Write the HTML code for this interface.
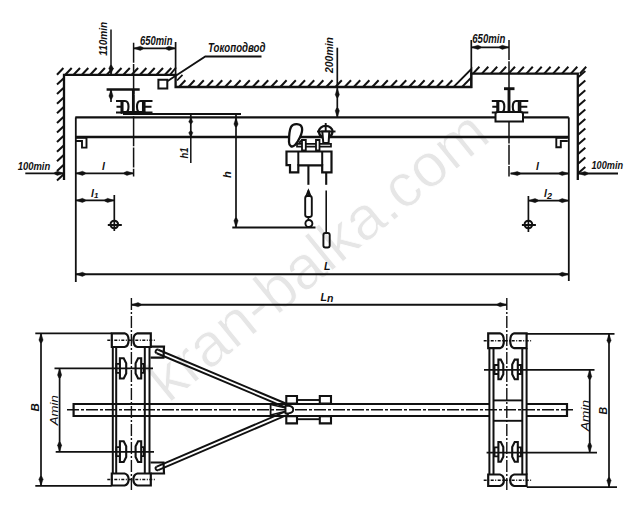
<!DOCTYPE html>
<html><head><meta charset="utf-8"><style>
html,body{margin:0;padding:0;background:#fff;}
svg{display:block;font-family:"Liberation Sans",sans-serif;}
</style></head><body>
<svg width="627" height="516" viewBox="0 0 627 516">
<rect width="627" height="516" fill="#fff"/>
<text x="0" y="0" font-size="61.2" fill="#e6e6e6" stroke="#fff" stroke-width="0.8" transform="translate(168.5,404) rotate(-39.2)" font-family="Liberation Sans, sans-serif">kran-balka.com</text>
<path d="M64.00,180.00 L64.00,74.80 L175.60,74.80 L175.60,87.00 L471.30,87.00 L471.30,73.60 L577.80,73.60 L577.80,180.00" stroke="#111" stroke-width="2.3" fill="none" />
<path d="M57.00,74.80 L63.40,68.00" stroke="#111" stroke-width="2.0" fill="none" />
<path d="M65.30,74.80 L71.70,68.00" stroke="#111" stroke-width="2.0" fill="none" />
<path d="M73.60,74.80 L80.00,68.00" stroke="#111" stroke-width="2.0" fill="none" />
<path d="M81.90,74.80 L88.30,68.00" stroke="#111" stroke-width="2.0" fill="none" />
<path d="M90.20,74.80 L96.60,68.00" stroke="#111" stroke-width="2.0" fill="none" />
<path d="M98.50,74.80 L104.90,68.00" stroke="#111" stroke-width="2.0" fill="none" />
<path d="M106.80,74.80 L113.20,68.00" stroke="#111" stroke-width="2.0" fill="none" />
<path d="M115.10,74.80 L121.50,68.00" stroke="#111" stroke-width="2.0" fill="none" />
<path d="M123.40,74.80 L129.80,68.00" stroke="#111" stroke-width="2.0" fill="none" />
<path d="M131.70,74.80 L138.10,68.00" stroke="#111" stroke-width="2.0" fill="none" />
<path d="M140.00,74.80 L146.40,68.00" stroke="#111" stroke-width="2.0" fill="none" />
<path d="M148.30,74.80 L154.70,68.00" stroke="#111" stroke-width="2.0" fill="none" />
<path d="M156.60,74.80 L163.00,68.00" stroke="#111" stroke-width="2.0" fill="none" />
<path d="M164.90,74.80 L171.30,68.00" stroke="#111" stroke-width="2.0" fill="none" />
<path d="M179.00,87.00 L185.40,80.20" stroke="#111" stroke-width="2.0" fill="none" />
<path d="M188.20,87.00 L194.60,80.20" stroke="#111" stroke-width="2.0" fill="none" />
<path d="M197.40,87.00 L203.80,80.20" stroke="#111" stroke-width="2.0" fill="none" />
<path d="M206.60,87.00 L213.00,80.20" stroke="#111" stroke-width="2.0" fill="none" />
<path d="M215.80,87.00 L222.20,80.20" stroke="#111" stroke-width="2.0" fill="none" />
<path d="M225.00,87.00 L231.40,80.20" stroke="#111" stroke-width="2.0" fill="none" />
<path d="M234.20,87.00 L240.60,80.20" stroke="#111" stroke-width="2.0" fill="none" />
<path d="M243.40,87.00 L249.80,80.20" stroke="#111" stroke-width="2.0" fill="none" />
<path d="M252.60,87.00 L259.00,80.20" stroke="#111" stroke-width="2.0" fill="none" />
<path d="M261.80,87.00 L268.20,80.20" stroke="#111" stroke-width="2.0" fill="none" />
<path d="M271.00,87.00 L277.40,80.20" stroke="#111" stroke-width="2.0" fill="none" />
<path d="M280.20,87.00 L286.60,80.20" stroke="#111" stroke-width="2.0" fill="none" />
<path d="M289.40,87.00 L295.80,80.20" stroke="#111" stroke-width="2.0" fill="none" />
<path d="M298.60,87.00 L305.00,80.20" stroke="#111" stroke-width="2.0" fill="none" />
<path d="M307.80,87.00 L314.20,80.20" stroke="#111" stroke-width="2.0" fill="none" />
<path d="M317.00,87.00 L323.40,80.20" stroke="#111" stroke-width="2.0" fill="none" />
<path d="M326.20,87.00 L332.60,80.20" stroke="#111" stroke-width="2.0" fill="none" />
<path d="M335.40,87.00 L341.80,80.20" stroke="#111" stroke-width="2.0" fill="none" />
<path d="M344.60,87.00 L351.00,80.20" stroke="#111" stroke-width="2.0" fill="none" />
<path d="M353.80,87.00 L360.20,80.20" stroke="#111" stroke-width="2.0" fill="none" />
<path d="M363.00,87.00 L369.40,80.20" stroke="#111" stroke-width="2.0" fill="none" />
<path d="M372.20,87.00 L378.60,80.20" stroke="#111" stroke-width="2.0" fill="none" />
<path d="M381.40,87.00 L387.80,80.20" stroke="#111" stroke-width="2.0" fill="none" />
<path d="M390.60,87.00 L397.00,80.20" stroke="#111" stroke-width="2.0" fill="none" />
<path d="M399.80,87.00 L406.20,80.20" stroke="#111" stroke-width="2.0" fill="none" />
<path d="M409.00,87.00 L415.40,80.20" stroke="#111" stroke-width="2.0" fill="none" />
<path d="M418.20,87.00 L424.60,80.20" stroke="#111" stroke-width="2.0" fill="none" />
<path d="M427.40,87.00 L433.80,80.20" stroke="#111" stroke-width="2.0" fill="none" />
<path d="M436.60,87.00 L443.00,80.20" stroke="#111" stroke-width="2.0" fill="none" />
<path d="M445.80,87.00 L452.20,80.20" stroke="#111" stroke-width="2.0" fill="none" />
<path d="M473.00,73.60 L479.40,66.80" stroke="#111" stroke-width="2.0" fill="none" />
<path d="M481.90,73.60 L488.30,66.80" stroke="#111" stroke-width="2.0" fill="none" />
<path d="M490.80,73.60 L497.20,66.80" stroke="#111" stroke-width="2.0" fill="none" />
<path d="M499.70,73.60 L506.10,66.80" stroke="#111" stroke-width="2.0" fill="none" />
<path d="M508.60,73.60 L515.00,66.80" stroke="#111" stroke-width="2.0" fill="none" />
<path d="M517.50,73.60 L523.90,66.80" stroke="#111" stroke-width="2.0" fill="none" />
<path d="M526.40,73.60 L532.80,66.80" stroke="#111" stroke-width="2.0" fill="none" />
<path d="M535.30,73.60 L541.70,66.80" stroke="#111" stroke-width="2.0" fill="none" />
<path d="M544.20,73.60 L550.60,66.80" stroke="#111" stroke-width="2.0" fill="none" />
<path d="M553.10,73.60 L559.50,66.80" stroke="#111" stroke-width="2.0" fill="none" />
<path d="M562.00,73.60 L568.40,66.80" stroke="#111" stroke-width="2.0" fill="none" />
<path d="M570.90,73.60 L577.30,66.80" stroke="#111" stroke-width="2.0" fill="none" />
<path d="M579.80,73.60 L586.20,66.80" stroke="#111" stroke-width="2.0" fill="none" />
<path d="M57.00,84.50 L64.00,78.00" stroke="#111" stroke-width="2.0" fill="none" />
<path d="M57.00,94.10 L64.00,87.60" stroke="#111" stroke-width="2.0" fill="none" />
<path d="M57.00,103.70 L64.00,97.20" stroke="#111" stroke-width="2.0" fill="none" />
<path d="M57.00,113.30 L64.00,106.80" stroke="#111" stroke-width="2.0" fill="none" />
<path d="M57.00,122.90 L64.00,116.40" stroke="#111" stroke-width="2.0" fill="none" />
<path d="M57.00,132.50 L64.00,126.00" stroke="#111" stroke-width="2.0" fill="none" />
<path d="M57.00,142.10 L64.00,135.60" stroke="#111" stroke-width="2.0" fill="none" />
<path d="M57.00,151.70 L64.00,145.20" stroke="#111" stroke-width="2.0" fill="none" />
<path d="M57.00,161.30 L64.00,154.80" stroke="#111" stroke-width="2.0" fill="none" />
<path d="M57.00,170.90 L64.00,164.40" stroke="#111" stroke-width="2.0" fill="none" />
<path d="M57.00,180.50 L64.00,174.00" stroke="#111" stroke-width="2.0" fill="none" />
<path d="M577.80,77.50 L585.30,71.00" stroke="#111" stroke-width="2.0" fill="none" />
<path d="M577.80,87.10 L585.30,80.60" stroke="#111" stroke-width="2.0" fill="none" />
<path d="M577.80,96.70 L585.30,90.20" stroke="#111" stroke-width="2.0" fill="none" />
<path d="M577.80,106.30 L585.30,99.80" stroke="#111" stroke-width="2.0" fill="none" />
<path d="M577.80,115.90 L585.30,109.40" stroke="#111" stroke-width="2.0" fill="none" />
<path d="M577.80,125.50 L585.30,119.00" stroke="#111" stroke-width="2.0" fill="none" />
<path d="M577.80,135.10 L585.30,128.60" stroke="#111" stroke-width="2.0" fill="none" />
<path d="M577.80,144.70 L585.30,138.20" stroke="#111" stroke-width="2.0" fill="none" />
<path d="M577.80,154.30 L585.30,147.80" stroke="#111" stroke-width="2.0" fill="none" />
<path d="M577.80,163.90 L585.30,157.40" stroke="#111" stroke-width="2.0" fill="none" />
<path d="M577.80,173.50 L585.30,167.00" stroke="#111" stroke-width="2.0" fill="none" />
<path d="M453.5,87 L471.3,87 L471.3,69 Z" stroke="#111" stroke-width="1.9000000000000001" fill="none" />
<path d="M462.00,87.00 L471.30,77.50" stroke="#111" stroke-width="1.8" fill="none" />
<path d="M177.00,80.50 L182.50,74.80" stroke="#111" stroke-width="1.8" fill="none" />
<path d="M170.00,74.80 L176.00,67.50" stroke="#111" stroke-width="1.9000000000000001" fill="none" />
<path d="M111.00,29.50 L111.00,74.80" stroke="#111" stroke-width="1.5" fill="none" />
<path d="M111.00,74.80 L108.90,68.15 L110.27,65.30 L111.73,65.30 L113.10,68.15 Z" fill="#111" stroke="#111" stroke-width="0.4"/>
<path d="M111.00,102.00 L111.00,89.40" stroke="#111" stroke-width="1.7" fill="none" />
<path d="M111.00,89.40 L113.10,96.05 L111.73,98.90 L110.27,98.90 L108.90,96.05 Z" fill="#111" stroke="#111" stroke-width="0.4"/>
<path d="M106.60,89.40 L139.70,89.40" stroke="#111" stroke-width="2.5" fill="none" />
<path d="M133.30,89.40 L133.30,112.00" stroke="#111" stroke-width="2.6999999999999997" fill="none" />
<text x="107.4" y="55.7" font-size="10.5" font-style="italic" font-weight="bold" text-anchor="start" fill="#111" textLength="34" lengthAdjust="spacingAndGlyphs" transform="rotate(-90 107.4 55.7)" >110min</text>
<path d="M133.60,42.70 L133.60,176.50" stroke="#111" stroke-width="1.5" fill="none" stroke-dasharray="20,1.2,30,1.2" />
<path d="M133.60,48.30 L175.60,48.30" stroke="#111" stroke-width="1.7" fill="none" />
<path d="M133.60,48.30 L140.25,46.20 L143.10,47.56 L143.10,49.03 L140.25,50.40 Z" fill="#111" stroke="#111" stroke-width="0.4"/>
<path d="M175.60,48.30 L168.95,50.40 L166.10,49.03 L166.10,47.56 L168.95,46.20 Z" fill="#111" stroke="#111" stroke-width="0.4"/>
<path d="M175.60,42.00 L175.60,74.80" stroke="#111" stroke-width="1.7" fill="none" />
<text x="140" y="44.5" font-size="12" font-style="italic" font-weight="bold" text-anchor="start" fill="#111" textLength="32.4" lengthAdjust="spacingAndGlyphs" >650min</text>
<path d="M471.30,40.00 L471.30,73.60" stroke="#111" stroke-width="1.7" fill="none" />
<path d="M509.00,40.00 L509.00,176.50" stroke="#111" stroke-width="1.5" fill="none" stroke-dasharray="20,1.2,30,1.2" />
<path d="M471.30,47.30 L509.00,47.30" stroke="#111" stroke-width="1.7" fill="none" />
<path d="M471.30,47.30 L477.95,45.20 L480.80,46.56 L480.80,48.03 L477.95,49.40 Z" fill="#111" stroke="#111" stroke-width="0.4"/>
<path d="M509.00,47.30 L502.35,49.40 L499.50,48.03 L499.50,46.56 L502.35,45.20 Z" fill="#111" stroke="#111" stroke-width="0.4"/>
<text x="472.3" y="43" font-size="12.5" font-style="italic" font-weight="bold" text-anchor="start" fill="#111" textLength="33" lengthAdjust="spacingAndGlyphs" >650min</text>
<path d="M158.4,79.8 h8.9 v8.7 h-8.9 Z" stroke="#111" stroke-width="2.0" fill="none" />
<path d="M167.30,81.30 L205.30,56.50 L261.50,56.50" stroke="#111" stroke-width="1.8" fill="none" />
<text x="208" y="52.3" font-size="12.5" font-style="italic" font-weight="bold" text-anchor="start" fill="#111" textLength="57.5" lengthAdjust="spacingAndGlyphs" >Токоподвод</text>
<path d="M337.30,47.70 L337.30,118.00" stroke="#111" stroke-width="1.7" fill="none" />
<path d="M337.30,88.00 L339.40,94.65 L338.04,97.50 L336.56,97.50 L335.20,94.65 Z" fill="#111" stroke="#111" stroke-width="0.4"/>
<path d="M337.30,117.50 L335.20,110.85 L336.56,108.00 L338.04,108.00 L339.40,110.85 Z" fill="#111" stroke="#111" stroke-width="0.4"/>
<text x="333" y="73" font-size="10" font-style="italic" font-weight="bold" text-anchor="start" fill="#111" textLength="36" lengthAdjust="spacingAndGlyphs" transform="rotate(-90 333 73)" >200min</text>
<path d="M75.30,117.40 L568.80,117.40" stroke="#111" stroke-width="2.4" fill="none" />
<path d="M75.30,137.00 L568.80,137.00" stroke="#111" stroke-width="2.4" fill="none" />
<path d="M75.80,117.40 L75.80,282.00" stroke="#111" stroke-width="1.8" fill="none" />
<path d="M568.80,117.40 L568.80,281.00" stroke="#111" stroke-width="1.8" fill="none" />
<path d="M123.00,114.00 L241.00,114.00" stroke="#111" stroke-width="1.9000000000000001" fill="none" />
<path d="M76,137.8 h10.5 v9.8 h-4.5 v-6.6 h-6" stroke="#111" stroke-width="1.9000000000000001" fill="none" />
<path d="M567.8,137.8 h-11.5 v9.5 h4.5 v-6.3 h7" stroke="#111" stroke-width="1.9000000000000001" fill="none" />
<g stroke="#111" stroke-width="2.1" fill="none"><path d="M116,101 h5.5 v11.5 h-5.5 M116.5,106.75 h5"/><path d="M122.5,101 h2.5 q3.5,0 3.5,5.75 q0,5.75 -3.5,5.75 h-2.5 Z"/><path d="M143,101 h-2.5 q-3.5,0 -3.5,5.75 q0,5.75 3.5,5.75 h2.5 Z"/><path d="M152.5,101 h-8 v11.5 h8 M144.5,106.75 h7"/></g>
<g stroke="#111" stroke-width="2.1" fill="none"><path d="M491.8,101 h5.5 v11.5 h-5.5 M492.3,106.75 h5"/><path d="M498.3,101 h2.5 q3.5,0 3.5,5.75 q0,5.75 -3.5,5.75 h-2.5 Z"/><path d="M518.8,101 h-2.5 q-3.5,0 -3.5,5.75 q0,5.75 3.5,5.75 h2.5 Z"/><path d="M528.3,101 h-8 v11.5 h8 M520.3,106.75 h7"/></g>
<path d="M504.00,88.70 L514.50,88.70" stroke="#111" stroke-width="2.9" fill="none" />
<path d="M509.00,88.70 L509.00,113.00" stroke="#111" stroke-width="2.9" fill="none" />
<path d="M495.5,114 q0,-2 2.5,-2 h22.5 q2.5,0 2.5,2 v7.5 h-27.5 Z" stroke="#111" stroke-width="2.0" fill="#fff" />
<path d="M120.8,113.5 q1,-1.5 3,-1.5 h19 q2,0 3,1.5" stroke="#111" stroke-width="1.9000000000000001" fill="none" />
<path d="M190.80,114.00 L190.80,137.00" stroke="#111" stroke-width="1.7" fill="none" />
<path d="M190.80,117.60 L192.90,121.80 L191.54,123.60 L190.06,123.60 L188.70,121.80 Z" fill="#111" stroke="#111" stroke-width="0.4"/>
<path d="M190.80,137.00 L188.70,132.80 L190.06,131.00 L191.54,131.00 L192.90,132.80 Z" fill="#111" stroke="#111" stroke-width="0.4"/>
<path d="M190.80,137.00 L190.80,163.00" stroke="#111" stroke-width="1.5" fill="none" />
<text x="188.3" y="158.5" font-size="10" font-style="italic" font-weight="bold" text-anchor="start" fill="#111" textLength="11" lengthAdjust="spacingAndGlyphs" transform="rotate(-90 188.3 158.5)" >h1</text>
<path d="M236.00,114.00 L236.00,227.50" stroke="#111" stroke-width="1.7" fill="none" />
<path d="M236.00,117.40 L238.10,124.05 L236.74,126.90 L235.26,126.90 L233.90,124.05 Z" fill="#111" stroke="#111" stroke-width="0.4"/>
<path d="M236.00,227.50 L233.90,220.85 L235.26,218.00 L236.74,218.00 L238.10,220.85 Z" fill="#111" stroke="#111" stroke-width="0.4"/>
<text x="230.5" y="178" font-size="11" font-style="italic" font-weight="bold" text-anchor="start" fill="#111" transform="rotate(-90 230.5 178)" >h</text>
<path d="M232.30,227.50 L315.50,227.50" stroke="#111" stroke-width="1.9000000000000001" fill="none" />
<path d="M25.30,173.30 L64.00,173.30" stroke="#111" stroke-width="1.8" fill="none" />
<path d="M64.00,173.30 L57.35,175.40 L54.50,174.04 L54.50,172.56 L57.35,171.20 Z" fill="#111" stroke="#111" stroke-width="0.4"/>
<path d="M75.80,173.30 L133.60,173.30" stroke="#111" stroke-width="1.8" fill="none" />
<path d="M75.80,173.30 L82.45,171.20 L85.30,172.56 L85.30,174.04 L82.45,175.40 Z" fill="#111" stroke="#111" stroke-width="0.4"/>
<path d="M133.60,173.30 L126.95,175.40 L124.10,174.04 L124.10,172.56 L126.95,171.20 Z" fill="#111" stroke="#111" stroke-width="0.4"/>
<text x="17.7" y="170" font-size="10" font-style="italic" font-weight="bold" text-anchor="start" fill="#111" textLength="32.5" lengthAdjust="spacingAndGlyphs" >100min</text>
<text x="102" y="169.5" font-size="10.5" font-style="italic" font-weight="bold" text-anchor="start" fill="#111" >l</text>
<path d="M578.20,173.50 L618.00,173.50" stroke="#111" stroke-width="1.8" fill="none" />
<path d="M578.20,173.50 L584.85,171.40 L587.70,172.76 L587.70,174.24 L584.85,175.60 Z" fill="#111" stroke="#111" stroke-width="0.4"/>
<path d="M510.60,173.50 L568.80,173.50" stroke="#111" stroke-width="1.8" fill="none" />
<path d="M510.60,173.50 L517.25,171.40 L520.10,172.76 L520.10,174.24 L517.25,175.60 Z" fill="#111" stroke="#111" stroke-width="0.4"/>
<path d="M568.80,173.50 L562.15,175.60 L559.30,174.24 L559.30,172.76 L562.15,171.40 Z" fill="#111" stroke="#111" stroke-width="0.4"/>
<text x="591.5" y="168.6" font-size="10.5" font-style="italic" font-weight="bold" text-anchor="start" fill="#111" textLength="31.5" lengthAdjust="spacingAndGlyphs" >100min</text>
<text x="536" y="170" font-size="10.5" font-style="italic" font-weight="bold" text-anchor="start" fill="#111" >l</text>
<path d="M75.80,200.40 L114.30,200.40" stroke="#111" stroke-width="1.8" fill="none" />
<path d="M75.80,200.40 L82.45,198.30 L85.30,199.66 L85.30,201.14 L82.45,202.50 Z" fill="#111" stroke="#111" stroke-width="0.4"/>
<path d="M114.30,200.40 L107.65,202.50 L104.80,201.14 L104.80,199.66 L107.65,198.30 Z" fill="#111" stroke="#111" stroke-width="0.4"/>
<path d="M114.30,195.00 L114.30,231.00" stroke="#111" stroke-width="1.7" fill="none" />
<text x="91" y="196.5" font-size="10.5" font-style="italic" font-weight="bold" text-anchor="start" fill="#111" >l<tspan dy="1" font-size="8">1</tspan></text>
<path d="M528.40,200.60 L568.80,200.60" stroke="#111" stroke-width="1.8" fill="none" />
<path d="M528.40,200.60 L535.05,198.50 L537.90,199.86 L537.90,201.34 L535.05,202.70 Z" fill="#111" stroke="#111" stroke-width="0.4"/>
<path d="M568.80,200.60 L562.15,202.70 L559.30,201.34 L559.30,199.86 L562.15,198.50 Z" fill="#111" stroke="#111" stroke-width="0.4"/>
<path d="M528.40,196.00 L528.40,232.00" stroke="#111" stroke-width="1.7" fill="none" />
<text x="544" y="197" font-size="10.5" font-style="italic" font-weight="bold" text-anchor="start" fill="#111" >l<tspan dy="1.5" font-size="9">2</tspan></text>
<path d="M110.5,224.5 a3.8,3.8 0 0 1 7.6,0 a3.8,3.8 0 0 1 -7.6,0" stroke="#111" stroke-width="2.0" fill="none" />
<path d="M107.80,225.00 L121.80,225.00" stroke="#111" stroke-width="2.0" fill="none" />
<path d="M524.6,224.5 a3.8,3.8 0 0 1 7.6,0 a3.8,3.8 0 0 1 -7.6,0" stroke="#111" stroke-width="2.0" fill="none" />
<path d="M521.90,225.00 L535.90,225.00" stroke="#111" stroke-width="2.0" fill="none" />
<path d="M75.80,274.30 L568.80,274.30" stroke="#111" stroke-width="1.9000000000000001" fill="none" />
<path d="M75.80,274.30 L82.45,272.20 L85.30,273.56 L85.30,275.04 L82.45,276.40 Z" fill="#111" stroke="#111" stroke-width="0.4"/>
<path d="M568.80,274.30 L562.15,276.40 L559.30,275.04 L559.30,273.56 L562.15,272.20 Z" fill="#111" stroke="#111" stroke-width="0.4"/>
<text x="324" y="270" font-size="10.5" font-style="italic" font-weight="bold" text-anchor="start" fill="#111" >L</text>
<path d="M291,127 C293,123 301,123 302,128 C303,133 298,142 295,145 C292,148 289,146 289,142 C289,137 289,131 291,127 Z" stroke="#111" stroke-width="2.3" fill="#fff" />
<path d="M299,143 q2,-3 6,-3" stroke="#111" stroke-width="1.8" fill="none" />
<path d="M318.8,131.5 a6.9,5.6 0 0 1 13.8,0 M318.8,131.5 q0.5,4 3.5,6 M332.6,131.5 q-0.5,4 -3.5,6" stroke="#111" stroke-width="2.1999999999999997" fill="none" />
<path d="M317.00,131.50 L335.50,131.50" stroke="#111" stroke-width="1.9000000000000001" fill="none" />
<path d="M325.70,123.00 L325.70,131.00" stroke="#111" stroke-width="1.9000000000000001" fill="none" />
<path d="M322.3,131.5 L329.3,131.5 L328.6,143 L323.3,143 Z" stroke="#111" stroke-width="2.0" fill="#fff" />
<path d="M297,143.8 h34 v2.8 h-34 Z" stroke="#111" stroke-width="1.7" fill="none" />
<path d="M302,140 h3.8 v10.5 h-3.8 Z" stroke="#111" stroke-width="1.8" fill="#fff" />
<path d="M316,140 h3.5 v10.5 h-3.5 Z" stroke="#111" stroke-width="1.8" fill="#fff" />
<path d="M286.5,151.5 L331.5,151.5 L331.5,172.4 L322.2,172.4 L322.2,165.4 L298.3,165.4 L298.3,172.4 L290,172.4 L290,165.2 L286.5,165.2 Z" stroke="#111" stroke-width="2.1999999999999997" fill="none" />
<path d="M298.30,151.50 L298.30,165.40" stroke="#111" stroke-width="2.0" fill="none" />
<path d="M322.20,151.50 L322.20,165.40" stroke="#111" stroke-width="2.0" fill="none" />
<path d="M308.40,165.40 L308.40,184.80" stroke="#111" stroke-width="2.1" fill="none" />
<rect x="305.2" y="196" width="6.6" height="21" rx="2.2" stroke="#111" stroke-width="1.9" fill="none"/>
<path d="M306,196.5 L308.4,190.6 L310.8,196.5" stroke="#111" stroke-width="1.8" fill="none" />
<path d="M308.40,190.60 L308.40,196.00" stroke="#111" stroke-width="1.9000000000000001" fill="none" />
<path d="M308.40,217.00 L308.40,220.00" stroke="#111" stroke-width="1.7" fill="none" />
<path d="M305.4,223.5 a3.5,3.5 0 1 0 7,0 a3.5,3.5 0 1 0 -7,0" stroke="#111" stroke-width="1.9000000000000001" fill="none" />
<path d="M326.20,172.40 L326.20,184.80" stroke="#111" stroke-width="2.1" fill="none" />
<path d="M326.20,190.60 L326.20,233.00" stroke="#111" stroke-width="1.6" fill="none" />
<rect x="323.4" y="233" width="6.3" height="14.5" rx="2" stroke="#111" stroke-width="1.9" fill="none"/>
<path d="M131.40,298.00 L131.40,492.00" stroke="#111" stroke-width="1.4000000000000001" fill="none" stroke-dasharray="12,2,2,2" />
<path d="M506.80,298.00 L506.80,492.00" stroke="#111" stroke-width="1.4000000000000001" fill="none" stroke-dasharray="12,2,2,2" />
<path d="M131.40,304.70 L506.80,304.70" stroke="#111" stroke-width="1.9000000000000001" fill="none" />
<path d="M131.40,304.70 L138.05,302.60 L140.90,303.96 L140.90,305.44 L138.05,306.80 Z" fill="#111" stroke="#111" stroke-width="0.4"/>
<path d="M506.80,304.70 L500.15,306.80 L497.30,305.44 L497.30,303.96 L500.15,302.60 Z" fill="#111" stroke="#111" stroke-width="0.4"/>
<text x="320.5" y="300.5" font-size="10.5" font-style="italic" font-weight="bold" text-anchor="start" fill="#111" >L<tspan dy="1.5" font-size="10.5">n</tspan></text>
<path d="M489.4,404 L73.6,404 L73.6,416 L489.4,416 M526.6,404 L567,404 L567,416 L526.6,416" stroke="#111" stroke-width="2.1999999999999997" fill="none" />
<path d="M67.00,409.80 L575.00,409.80" stroke="#111" stroke-width="1.4000000000000001" fill="none" stroke-dasharray="12,2,3,2" />
<path d="M112.80,347.00 L112.80,473.50" stroke="#111" stroke-width="2.0" fill="none" />
<path d="M116.20,347.00 L116.20,473.50" stroke="#111" stroke-width="2.0" fill="none" />
<path d="M144.80,347.00 L144.80,473.50" stroke="#111" stroke-width="2.0" fill="none" />
<path d="M149.50,347.00 L149.50,473.50" stroke="#111" stroke-width="2.0" fill="none" />
<path d="M111.8,333.3 L124.6,333.3 Q128.6,334.3 128.6,340.15 Q128.6,346 124.6,347 L111.8,347 Z" stroke="#111" stroke-width="2.1999999999999997" fill="none" />
<path d="M150.8,333.3 L137.4,333.3 Q133.4,334.3 133.4,340.15 Q133.4,346 137.4,347 L150.8,347 Z" stroke="#111" stroke-width="2.1999999999999997" fill="none" />
<path d="M107.30,340.15 L155.30,340.15" stroke="#111" stroke-width="1.5" fill="none" stroke-dasharray="3,1.5,1,1.5" />
<path d="M111.8,473.5 L124.6,473.5 Q128.6,474.5 128.6,479.5 Q128.6,484.5 124.6,485.5 L111.8,485.5 Z" stroke="#111" stroke-width="2.1999999999999997" fill="none" />
<path d="M150.8,473.5 L137.4,473.5 Q133.4,474.5 133.4,479.5 Q133.4,484.5 137.4,485.5 L150.8,485.5 Z" stroke="#111" stroke-width="2.1999999999999997" fill="none" />
<path d="M107.30,479.50 L155.30,479.50" stroke="#111" stroke-width="1.5" fill="none" stroke-dasharray="3,1.5,1,1.5" />
<path d="M119.9,358.3 L123.7,358.3 L126.2,363.3 L126.2,373.5 L123.7,378.5 L119.9,378.5 Z" stroke="#111" stroke-width="2.1" fill="none" />
<path d="M119.9,363.9 L116.4,363.9 L116.4,372.9 L119.9,372.9" stroke="#111" stroke-width="1.9000000000000001" fill="none" />
<path d="M141.2,358.3 L138.1,358.3 L135.6,363.3 L135.6,373.5 L138.1,378.5 L141.2,378.5 Z" stroke="#111" stroke-width="2.1" fill="none" />
<path d="M141.2,363.9 L143.8,363.9 L143.8,372.9 L141.2,372.9" stroke="#111" stroke-width="1.9000000000000001" fill="none" />
<path d="M119.9,441.3 L123.7,441.3 L126.2,446.3 L126.2,457 L123.7,462 L119.9,462 Z" stroke="#111" stroke-width="2.1" fill="none" />
<path d="M119.9,447.15 L116.4,447.15 L116.4,456.15 L119.9,456.15" stroke="#111" stroke-width="1.9000000000000001" fill="none" />
<path d="M141.2,441.3 L138.1,441.3 L135.6,446.3 L135.6,457 L138.1,462 L141.2,462 Z" stroke="#111" stroke-width="2.1" fill="none" />
<path d="M141.2,447.15 L143.8,447.15 L143.8,456.15 L141.2,456.15" stroke="#111" stroke-width="1.9000000000000001" fill="none" />
<path d="M489.40,348.20 L489.40,474.50" stroke="#111" stroke-width="2.0" fill="none" />
<path d="M493.50,348.20 L493.50,474.50" stroke="#111" stroke-width="2.0" fill="none" />
<path d="M522.30,348.20 L522.30,474.50" stroke="#111" stroke-width="2.0" fill="none" />
<path d="M526.60,348.20 L526.60,474.50" stroke="#111" stroke-width="2.0" fill="none" />
<path d="M488.2,333.3 L499.9,333.3 Q503.9,334.3 503.9,340.75 Q503.9,347.2 499.9,348.2 L488.2,348.2 Z" stroke="#111" stroke-width="2.1999999999999997" fill="none" />
<path d="M526.6,333.3 L514.2,333.3 Q510.2,334.3 510.2,340.75 Q510.2,347.2 514.2,348.2 L526.6,348.2 Z" stroke="#111" stroke-width="2.1999999999999997" fill="none" />
<path d="M483.70,340.75 L531.10,340.75" stroke="#111" stroke-width="1.5" fill="none" stroke-dasharray="3,1.5,1,1.5" />
<path d="M488.2,474.5 L499.9,474.5 Q503.9,475.5 503.9,480.25 Q503.9,485 499.9,486 L488.2,486 Z" stroke="#111" stroke-width="2.1999999999999997" fill="none" />
<path d="M526.6,474.5 L514.2,474.5 Q510.2,475.5 510.2,480.25 Q510.2,485 514.2,486 L526.6,486 Z" stroke="#111" stroke-width="2.1999999999999997" fill="none" />
<path d="M483.70,480.25 L531.10,480.25" stroke="#111" stroke-width="1.5" fill="none" stroke-dasharray="3,1.5,1,1.5" />
<path d="M498.4,359.6 L500.8,359.6 L503.3,364.6 L503.3,374.3 L500.8,379.3 L498.4,379.3 Z" stroke="#111" stroke-width="2.1" fill="none" />
<path d="M498.4,364.95000000000005 L494.5,364.95000000000005 L494.5,373.95000000000005 L498.4,373.95000000000005" stroke="#111" stroke-width="1.9000000000000001" fill="none" />
<path d="M517.8,359.6 L514.7,359.6 L512.2,364.6 L512.2,374.3 L514.7,379.3 L517.8,379.3 Z" stroke="#111" stroke-width="2.1" fill="none" />
<path d="M517.8,364.95000000000005 L521,364.95000000000005 L521,373.95000000000005 L517.8,373.95000000000005" stroke="#111" stroke-width="1.9000000000000001" fill="none" />
<path d="M498.4,442 L500.8,442 L503.3,447 L503.3,456.8 L500.8,461.8 L498.4,461.8 Z" stroke="#111" stroke-width="2.1" fill="none" />
<path d="M498.4,447.4 L494.5,447.4 L494.5,456.4 L498.4,456.4" stroke="#111" stroke-width="1.9000000000000001" fill="none" />
<path d="M517.8,442 L514.7,442 L512.2,447 L512.2,456.8 L514.7,461.8 L517.8,461.8 Z" stroke="#111" stroke-width="2.1" fill="none" />
<path d="M517.8,447.4 L521,447.4 L521,456.4 L517.8,456.4" stroke="#111" stroke-width="1.9000000000000001" fill="none" />
<path d="M493.50,400.40 L522.30,400.40" stroke="#111" stroke-width="1.9000000000000001" fill="none" />
<path d="M493.50,420.80 L522.30,420.80" stroke="#111" stroke-width="1.9000000000000001" fill="none" />
<path d="M35.30,333.30 L111.50,333.30" stroke="#111" stroke-width="1.8" fill="none" />
<path d="M35.30,485.80 L111.50,485.80" stroke="#111" stroke-width="1.8" fill="none" />
<path d="M41.00,333.30 L41.00,485.80" stroke="#111" stroke-width="1.7" fill="none" />
<path d="M41.00,333.30 L43.10,339.95 L41.73,342.80 L40.27,342.80 L38.90,339.95 Z" fill="#111" stroke="#111" stroke-width="0.4"/>
<path d="M41.00,485.80 L38.90,479.15 L40.27,476.30 L41.73,476.30 L43.10,479.15 Z" fill="#111" stroke="#111" stroke-width="0.4"/>
<text x="38.8" y="411.5" font-size="11.5" font-style="italic" font-weight="bold" text-anchor="start" fill="#111" transform="rotate(-90 38.8 411.5)" >B</text>
<path d="M54.50,368.40 L153.00,368.40" stroke="#111" stroke-width="1.8" fill="none" />
<path d="M55.70,451.80 L154.00,451.80" stroke="#111" stroke-width="1.8" fill="none" />
<path d="M59.60,368.40 L59.60,451.80" stroke="#111" stroke-width="1.7" fill="none" />
<path d="M59.60,368.40 L61.70,375.05 L60.34,377.90 L58.87,377.90 L57.50,375.05 Z" fill="#111" stroke="#111" stroke-width="0.4"/>
<path d="M59.60,451.80 L57.50,445.15 L58.87,442.30 L60.34,442.30 L61.70,445.15 Z" fill="#111" stroke="#111" stroke-width="0.4"/>
<text x="58" y="425.2" font-size="10.5" font-style="italic" font-weight="normal" text-anchor="start" fill="#111" textLength="30" lengthAdjust="spacingAndGlyphs" transform="rotate(-90 58 425.2)" >Amin</text>
<path d="M526.80,333.80 L614.50,333.80" stroke="#111" stroke-width="1.8" fill="none" />
<path d="M526.80,487.20 L617.00,487.20" stroke="#111" stroke-width="1.8" fill="none" />
<path d="M609.00,333.80 L609.00,487.20" stroke="#111" stroke-width="1.7" fill="none" />
<path d="M609.00,333.80 L611.10,340.45 L609.74,343.30 L608.26,343.30 L606.90,340.45 Z" fill="#111" stroke="#111" stroke-width="0.4"/>
<path d="M609.00,487.20 L606.90,480.55 L608.26,477.70 L609.74,477.70 L611.10,480.55 Z" fill="#111" stroke="#111" stroke-width="0.4"/>
<text x="606.5" y="414.5" font-size="10.5" font-style="italic" font-weight="bold" text-anchor="start" fill="#111" transform="rotate(-90 606.5 414.5)" >B</text>
<path d="M484.00,369.80 L594.50,369.80" stroke="#111" stroke-width="1.8" fill="none" />
<path d="M486.60,452.60 L597.00,452.60" stroke="#111" stroke-width="1.8" fill="none" />
<path d="M589.70,369.80 L589.70,452.60" stroke="#111" stroke-width="1.7" fill="none" />
<path d="M589.70,369.80 L591.80,376.45 L590.44,379.30 L588.97,379.30 L587.60,376.45 Z" fill="#111" stroke="#111" stroke-width="0.4"/>
<path d="M589.70,452.60 L587.60,445.95 L588.97,443.10 L590.44,443.10 L591.80,445.95 Z" fill="#111" stroke="#111" stroke-width="0.4"/>
<text x="589.3" y="431" font-size="10.5" font-style="italic" font-weight="normal" text-anchor="start" fill="#111" textLength="31" lengthAdjust="spacingAndGlyphs" transform="rotate(-90 589.3 431)" >Amin</text>
<path d="M150.5,346.7 h13.5 l-0.5,11 h-13" stroke="#111" stroke-width="2.1999999999999997" fill="none" />
<path d="M150.5,462.5 h13 l0.5,11 h-13.5" stroke="#111" stroke-width="2.1999999999999997" fill="none" />
<path d="M156.76,353.25 L287.26,408.25" stroke="#111" stroke-width="1.9000000000000001" fill="none" />
<path d="M158.24,349.75 L288.74,404.75" stroke="#111" stroke-width="1.9000000000000001" fill="none" />
<path d="M156.76,353.25 A1.9,1.9 0 0 1 158.24,349.75" stroke="#111" stroke-width="1.9000000000000001" fill="none" />
<path d="M158.25,470.05 L288.75,414.25" stroke="#111" stroke-width="1.9000000000000001" fill="none" />
<path d="M156.75,466.55 L287.25,410.75" stroke="#111" stroke-width="1.9000000000000001" fill="none" />
<path d="M158.25,470.05 A1.9,1.9 0 0 1 156.75,466.55" stroke="#111" stroke-width="1.9000000000000001" fill="none" />
<path d="M270.60,403.50 L270.60,416.50" stroke="#111" stroke-width="1.8" fill="none" />
<path d="M270.60,404.50 L286.00,408.00" stroke="#111" stroke-width="1.6" fill="none" />
<path d="M270.60,415.00 L286.00,411.20" stroke="#111" stroke-width="1.6" fill="none" />
<path d="M285.5,405.8 L288.5,405.8 Q293.2,406.2 293.2,409.6 Q293.2,413 288.5,413.4 L285.5,413.4 Z" stroke="#111" stroke-width="1.9000000000000001" fill="#fff" />
<path d="M286.3,396 h10.699999999999989 v7.5 h-10.699999999999989 Z" stroke="#111" stroke-width="2.1" fill="#fff" />
<path d="M286.3,416.2 h10.699999999999989 v7.2 h-10.699999999999989 Z" stroke="#111" stroke-width="2.1" fill="#fff" />
<path d="M319.8,396 h11.199999999999989 v7.5 h-11.199999999999989 Z" stroke="#111" stroke-width="2.1" fill="#fff" />
<path d="M319.8,416.2 h11.199999999999989 v7.2 h-11.199999999999989 Z" stroke="#111" stroke-width="2.1" fill="#fff" />
<path d="M297.00,400.00 L319.80,400.00" stroke="#111" stroke-width="1.9000000000000001" fill="none" />
<path d="M297.00,419.20 L319.80,419.20" stroke="#111" stroke-width="1.9000000000000001" fill="none" />
</svg></body></html>
